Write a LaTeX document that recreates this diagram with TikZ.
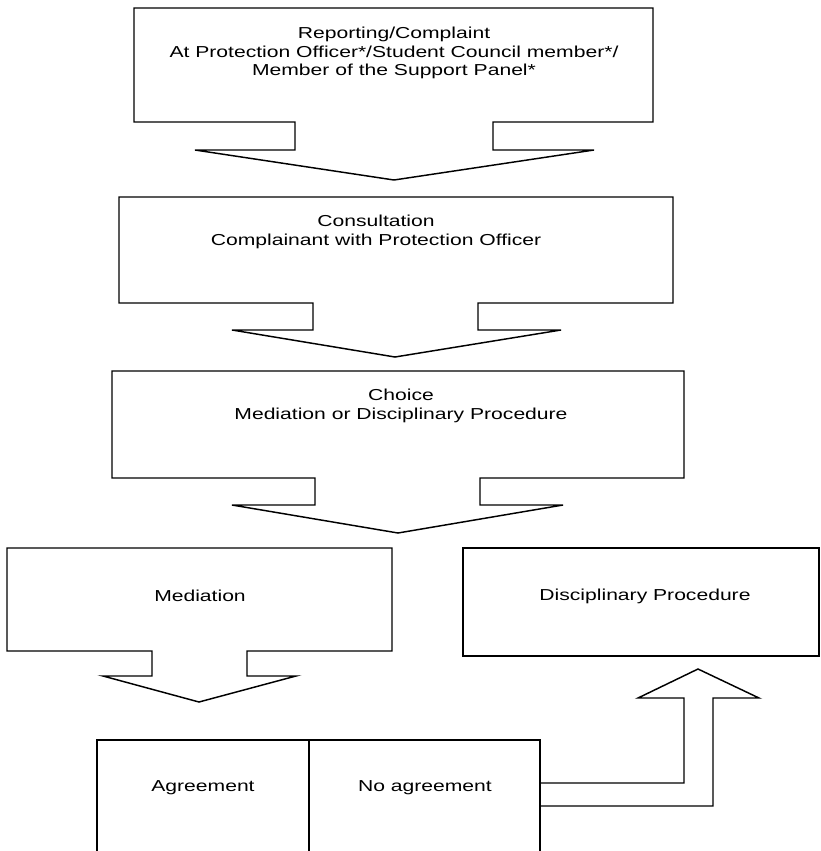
\documentclass[tikz,border=0pt]{standalone}
\usepackage{fontspec}
\setmainfont[FakeStretch=1.33]{Liberation Sans}
\usepackage{tikz}
\usetikzlibrary{positioning}

\begin{document}
\begin{tikzpicture}[
  x=0.75pt, y=-0.75pt,
  outline/.style={draw, line width=1.1pt, line join=miter},
  label/.style={font=\fontsize{11.9pt}{13.9pt}\selectfont, align=center,
    inner sep=0pt}
]
  \useasboundingbox (0,0) rectangle (821,851);

  % Reporting
  \draw[outline] (134,8) -- (653,8) -- (653,122) -- (493,122) -- (493,150)
    -- (594,150) -- (394,180) -- (195,150) -- (295,150) -- (295,122)
    -- (134,122) -- cycle;
  \node[label] (report) at (394,53)
    {Reporting/Complaint\\At Protection Officer*/Student Council member*/\\
     Member of the Support Panel*};

  % Consultation
  \draw[outline] (119,197) -- (673,197) -- (673,303) -- (478,303) -- (478,330)
    -- (561,330) -- (395,357) -- (232,330) -- (313,330) -- (313,303)
    -- (119,303) -- cycle;
  \node[label] (consult) at (376,232)
    {Consultation\\Complainant with Protection Officer};

  % Choice
  \draw[outline] (112,371) -- (684,371) -- (684,478) -- (480,478) -- (480,505)
    -- (563,505) -- (398,533) -- (232,505) -- (315,505) -- (315,478)
    -- (112,478) -- cycle;
  \node[label] (choice) at (401,406)
    {Choice\\Mediation or Disciplinary Procedure};

  % Mediation
  \draw[outline] (7,548) -- (392,548) -- (392,651) -- (247,651) -- (247,676)
    -- (296,676) -- (199,702) -- (103,676) -- (152,676) -- (152,651)
    -- (7,651) -- cycle;
  \node[label] (mediation) at (200,596) {Mediation};

  % Disciplinary procedure
  \draw[outline] (463,548) rectangle (819,656);
  \node[label] (disc) at (645,596) {Disciplinary Procedure};

  % Outcomes
  \draw[outline] (97,853) -- (97,740) -- (540,740) -- (540,853);
  \draw[outline] (309,740) -- (309,853);
  \node[label] (agree) at (203,788) {Agreement};
  \node[label] (noagree) at (425,788) {No agreement};

  % Back to disciplinary procedure
  \draw[outline] (540,783) -- (684,783) -- (684,698) -- (638,698) -- (698,669)
    -- (759,698) -- (713,698) -- (713,806) -- (540,806);
\end{tikzpicture}
\end{document}
